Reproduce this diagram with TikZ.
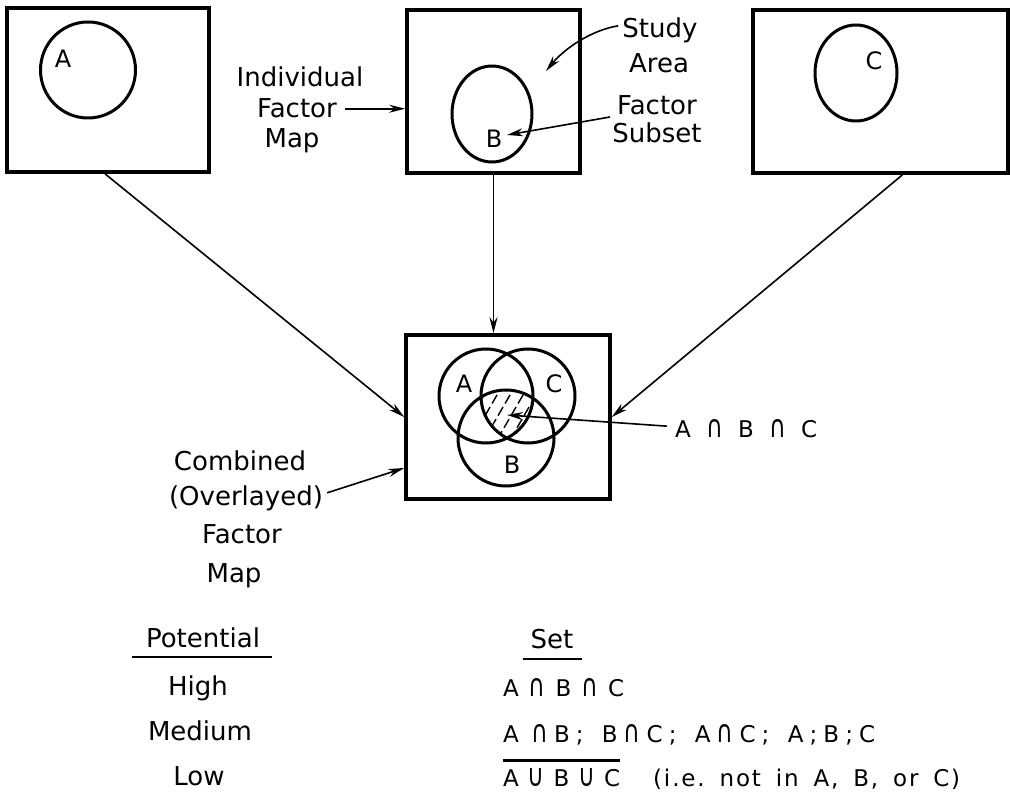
\documentclass[tikz,border=0pt]{standalone}
\usepackage{fontspec}
\setmainfont{DejaVu Sans}
\newfontfamily\setfontb{DejaVu Sans}[LetterSpace=8]
\usetikzlibrary{arrows.meta}
\newcommand{\icap}{\scalebox{1}[1.35]{∩}}
\newcommand{\iunion}{\scalebox{1}[1.35]{∪}}
\newcommand{\gp}{\hspace{0pt plus 1fil}}
\newcommand{\wg}{\hspace{0pt plus 3fil}}
\frenchspacing
\begin{document}
\begin{tikzpicture}[x=1pt,y=-1pt,
  mapbox/.style={draw, line width=3.6pt, inner sep=0pt},
  circ/.style={line width=3pt},
  txt/.style={inner sep=0pt, anchor=base, font=\fontsize{26}{30}\selectfont},
  lbl/.style={inner sep=0pt, anchor=base, font=\fontsize{24}{28}\selectfont},
  setcol/.style={inner sep=0pt, anchor=base west, font=\fontsize{23}{27}\selectfont},
  conn/.style={line width=1.6pt, -{Stealth[length=16pt,width=8pt]}},
  hatch/.style={line width=1.4pt, dash pattern=on 10pt off 4pt},
  rule/.style={line width=2.8pt}]
\useasboundingbox (0,0) rectangle (1010,794);

% individual maps
\node[mapbox, minimum width=202pt, minimum height=164pt] (box1) at (108,90) {};
\node[mapbox, minimum width=173pt, minimum height=163pt] (box2) at (493.5,91.5) {};
\node[mapbox, minimum width=255pt, minimum height=163pt] (box3) at (880.5,91.5) {};
\draw[circ] (88,70) ellipse (47.5 and 48);
\draw[circ] (492,114) ellipse (40 and 48);
\draw[circ] (856,73) ellipse (41 and 48);
\node[lbl] (la) at (63,68) {A};
\node[lbl] (lb) at (494,148) {B};
\node[lbl] (lc) at (874,70) {C};

% combined map
\node[mapbox, minimum width=204pt, minimum height=164pt] (comb) at (508,417) {};
\begin{scope}
  \clip (486,396) circle (47);
  \clip (528,396) circle (47);
  \clip (506,438) circle (48);
  \foreach \i in {0,...,9} \draw[hatch] (425+\i*13,452) -- ++(55,-95);
\end{scope}
\draw[circ] (486,396) circle (47);
\draw[circ] (528,396) circle (47);
\draw[circ] (506,438) circle (48);
\node[lbl] (ca) at (464,393) {A};
\node[lbl] (cc) at (554,393) {C};
\node[lbl] (cb) at (512,473) {B};

% labels
\node[txt] (ifm1) at (300,87) {Individual};
\node[txt] (ifm2) at (297,118) {Factor};
\node[txt] (ifm3) at (292,148) {Map};
\node[txt] (sa1) at (660,38) {Study};
\node[txt] (sa2) at (659,73) {Area};
\node[txt] (fs1) at (657,115) {Factor};
\node[txt] (fs2) at (657,143) {Subset};
\node[setcol] (abc) at (675,437) {\hbox to 142pt{A\gp\icap\gp B\gp\icap\gp C}};
\node[txt] (cm1) at (240,470) {Combined};
\node[txt] (cm2) at (246,505) {(Overlayed)};
\node[txt] (cm3) at (242,543) {Factor};
\node[txt] (cm4) at (234,582) {Map};

\coordinate (saEnd) at (546,71);
\coordinate (fsStart) at (610,117);
\coordinate (fsEnd) at (507,135);
\coordinate (abcEnd) at (507,415);

% connectors
\draw[conn] ([xshift=8pt]ifm2.east) -- (ifm2.east -| box2.west);
\draw[conn] ([xshift=-4pt,yshift=5pt]sa1.west) .. controls (592,30) and (565,48) .. (saEnd);
\draw[conn] (fsStart) -- (fsEnd);
\draw[conn] ([xshift=-3pt]box1.south) -- (comb.west);
\draw[conn] ([xshift=22pt]box3.south) -- (comb.east);
\draw[conn] (box2.south) -- (box2.south |- comb.north);
\draw[conn] ([xshift=-8pt,yshift=2pt]abc.west) -- (abcEnd);
\draw[conn] ([xshift=4pt,yshift=5pt]cm2.east) -- ([yshift=-51pt]comb.west);

% table
\node[txt] (pot) at (203,647) {Potential};
\node[txt] (set) at (552,648) {Set};
\draw[rule] (132,657) -- (272,657);
\draw[rule] (523,659) -- (582,659);
\node[txt] (hi) at (198,695) {High};
\node[txt] (med) at (200,740) {Medium};
\node[txt] (low) at (199,785) {Low};
\node[setcol] (s1) at (503,696) {\hbox to 121pt{A\gp\icap\gp B\gp\icap\gp C}};
\node[setcol] (s2) at (503,742) {\hbox to 372pt{A\gp\gp\icap\gp B\gp;\wg B\gp\icap\gp C\gp;\wg A\gp\icap\gp C\gp;\wg A\gp;\gp B\gp;\gp C}};
\node[setcol] (s3) at (503,786) {\hbox to 117pt{A\gp\iunion\gp B\gp\iunion\gp C}};
\node[setcol, font=\setfontb\fontsize{23}{27}\selectfont] (s4) at (653,786) {\hbox to 307pt{(i.e. not in A, B, or C)}};
\draw[rule] ([yshift=7pt]s3.north west) -- ([yshift=7pt]s3.north east);
\end{tikzpicture}
\end{document}
